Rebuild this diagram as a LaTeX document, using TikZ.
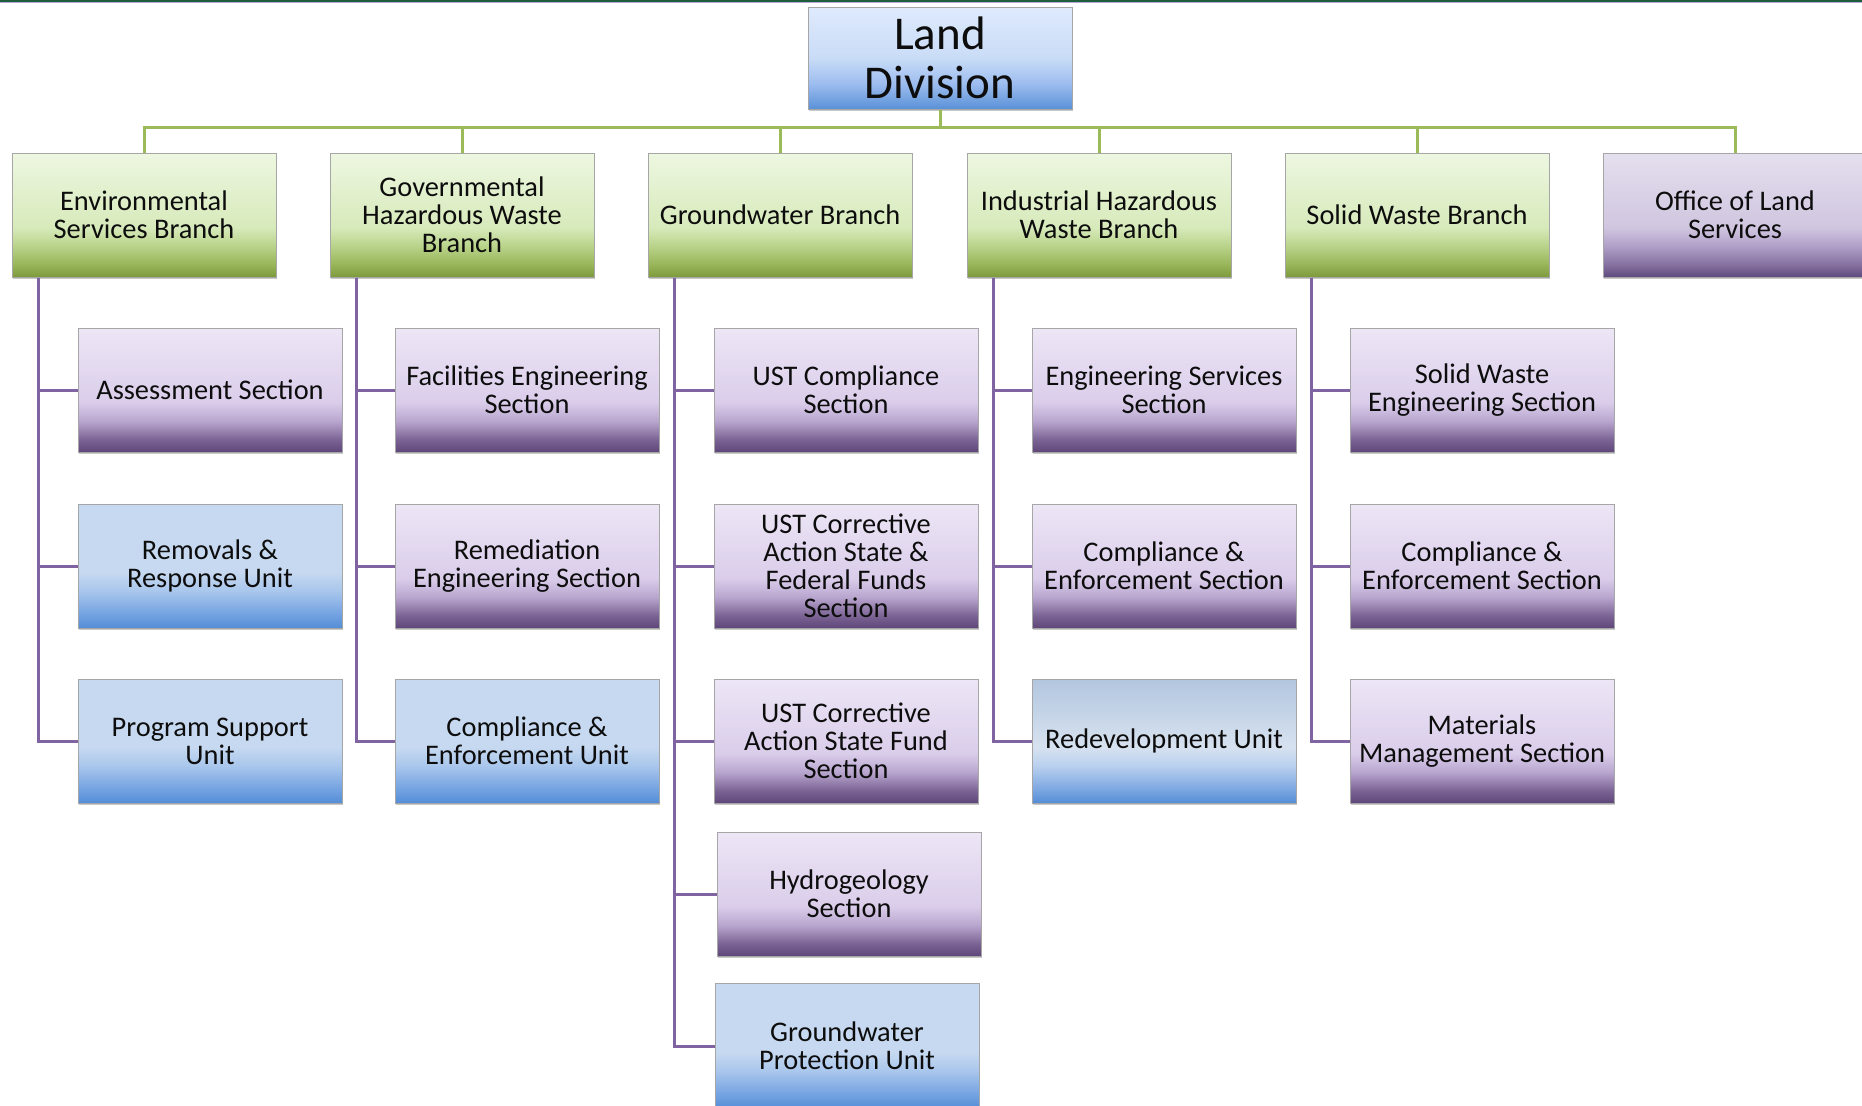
\documentclass[tikz,border=0pt]{standalone}
\usepackage{fontspec}
\setmainfont{Carlito}
\usetikzlibrary{shadows}
\definecolor{gline}{HTML}{9BBB59}
\definecolor{pline}{HTML}{8064A2}
\definecolor{txt}{HTML}{0D0D0D}
\definecolor{bordc}{HTML}{A6A6A6}
% purple section
\definecolor{ps0}{HTML}{5E4679}\definecolor{ps1}{HTML}{7B6494}\definecolor{ps2}{HTML}{B9A6CF}\definecolor{ps3}{HTML}{DACDEA}\definecolor{ps4}{HTML}{EDE6F6}
\pgfdeclareverticalshading{secshade}{100bp}{color(0bp)=(ps0); color(25bp)=(ps0); color(30bp)=(ps1); color(37.5bp)=(ps2); color(45bp)=(ps3); color(75bp)=(ps4); color(100bp)=(ps4)}
% green branch
\definecolor{gb0}{HTML}{7D9A3C}\definecolor{gb1}{HTML}{98B659}\definecolor{gb2}{HTML}{B9D38A}\definecolor{gb3}{HTML}{D7EABB}\definecolor{gb4}{HTML}{EEF7E1}
\pgfdeclareverticalshading{brshade}{100bp}{color(0bp)=(gb0); color(25bp)=(gb0); color(30bp)=(gb1); color(37.5bp)=(gb2); color(45bp)=(gb3); color(75bp)=(gb4); color(100bp)=(gb4)}
% office
\definecolor{of0}{HTML}{5F4A7E}\definecolor{of1}{HTML}{8571A0}\definecolor{of2}{HTML}{B0A0C8}\definecolor{of3}{HTML}{D0C6E0}\definecolor{of4}{HTML}{E4E0EE}
\pgfdeclareverticalshading{ofshade}{100bp}{color(0bp)=(of0); color(25bp)=(of0); color(30bp)=(of1); color(37.5bp)=(of2); color(45bp)=(of3); color(75bp)=(of4); color(100bp)=(of4)}
% blue unit
\definecolor{bu0}{HTML}{548DD6}\definecolor{bu1}{HTML}{76A4E2}\definecolor{bu2}{HTML}{A9C6EC}\definecolor{bu3}{HTML}{C6D9F0}
\pgfdeclareverticalshading{unitshade}{100bp}{color(0bp)=(bu0); color(25bp)=(bu0); color(31bp)=(bu1); color(40bp)=(bu2); color(47.5bp)=(bu3); color(75bp)=(bu3); color(100bp)=(bu3)}
% redevelopment
\definecolor{rd3}{HTML}{D7E2F0}\definecolor{rd4}{HTML}{B2C6DF}\definecolor{rd2}{HTML}{B9D0EE}\definecolor{rd1}{HTML}{7FA9E2}
\pgfdeclareverticalshading{redshade}{100bp}{color(0bp)=(bu0); color(25bp)=(bu0); color(31bp)=(rd1); color(40bp)=(rd2); color(47.5bp)=(rd3); color(75bp)=(rd4); color(100bp)=(rd4)}
% land division
\definecolor{ld0}{HTML}{5A91D7}\definecolor{ld1}{HTML}{9DBDEF}\definecolor{ld2}{HTML}{C9DCF7}\definecolor{ld3}{HTML}{DFEAFC}
\pgfdeclareverticalshading{ldshade}{100bp}{color(0bp)=(ld0); color(25bp)=(ld0); color(37.5bp)=(ld1); color(50bp)=(ld2); color(75bp)=(ld3); color(100bp)=(ld3)}
\definecolor{topg}{HTML}{1E5E3E}
\definecolor{topp}{HTML}{B8A8D6}
\tikzset{
  box/.style={draw=bordc, line width=0.5pt, shade, minimum width=132pt, minimum height=62pt,
    inner sep=0pt, align=center, text=txt, font=\fontsize{14.2}{14}\selectfont,
    drop shadow={shadow xshift=0.6pt, shadow yshift=-0.9pt, opacity=0.35, fill=black!60}},
  branch/.style={box, shading=brshade},
  office/.style={box, shading=ofshade},
  sec/.style={box, shading=secshade},
  unit/.style={box, shading=unitshade},
  redev/.style={box, shading=redshade},
  gconn/.style={draw=gline, line width=1.5pt},
  pconn/.style={draw=pline, line width=1.5pt},
}
\begin{document}
\begin{tikzpicture}[x=0.5pt, y=-0.5pt]
\useasboundingbox (0,0) rectangle (1862,1105);
\clip (0,0) rectangle (1862,1105);
\fill[white] (0,0) rectangle (1862,1105);
\fill[topg] (0,0) rectangle (1862,1.5);
\fill[topp] (0,1.5) rectangle (1862,2.6);

% top
\node[box, shading=ldshade, minimum height=51pt, font=\fontsize{23.5}{24.5}\selectfont] (LD) at (940,58) {Land\\Division};

% branches
\node[branch] (E)  at (144,215)  {Environmental\\Services Branch};
\node[branch] (G)  at (462,215)  {Governmental\\Hazardous Waste\\Branch};
\node[branch] (GW) at (780,215)  {Groundwater Branch};
\node[branch] (IH) at (1099,215) {Industrial Hazardous\\Waste Branch};
\node[branch] (SW) at (1417,215) {Solid Waste Branch};
\node[office] (O)  at (1735,215) {Office of Land\\Services};

\coordinate (bus) at (940,127);
\draw[gconn] (LD.south) -- (bus);
\foreach \b in {E,G,GW,IH,SW,O} { \draw[gconn] (bus) -| (\b.north); }

% Environmental Services
\node[sec]  (E1) at (210,390) {Assessment Section};
\node[unit] (E2) at (210,566) {Removals \&\\Response Unit};
\node[unit] (E3) at (210,741) {Program Support\\Unit};
% Governmental Hazardous Waste
\node[sec]  (G1) at (527,390) {Facilities Engineering\\Section};
\node[sec]  (G2) at (527,566) {Remediation\\Engineering Section};
\node[unit] (G3) at (527,741) {Compliance \&\\Enforcement Unit};
% Groundwater
\node[sec]  (W1) at (846,390) {UST Compliance\\Section};
\node[sec]  (W2) at (846,566) {UST Corrective\\Action State \&\\Federal Funds\\Section};
\node[sec]  (W3) at (846,741) {UST Corrective\\Action State Fund\\Section};
\node[sec]  (W4) at (849,894) {Hydrogeology\\Section};
\node[unit, minimum height=62.5pt] (W5) at (847,1046) {Groundwater\\Protection Unit};
% Industrial Hazardous Waste
\node[sec]   (I1) at (1164,390) {Engineering Services\\Section};
\node[sec]   (I2) at (1164,566) {Compliance \&\\Enforcement Section};
\node[redev] (I3) at (1164,741) {Redevelopment Unit};
% Solid Waste
\node[sec] (S1) at (1482,390) {Solid Waste\\Engineering Section};
\node[sec] (S2) at (1482,566) {Compliance \&\\Enforcement Section};
\node[sec] (S3) at (1482,741) {Materials\\Management Section};

% purple connectors
\foreach \b/\kids in {E/{E1,E2,E3}, G/{G1,G2,G3}, GW/{W1,W2,W3,W4,W5}, IH/{I1,I2,I3}, SW/{S1,S2,S3}} {
  \foreach \k in \kids { \draw[pconn] ([xshift=13.5pt]\b.south west) |- (\k.west); }
}
\end{tikzpicture}
\end{document}
